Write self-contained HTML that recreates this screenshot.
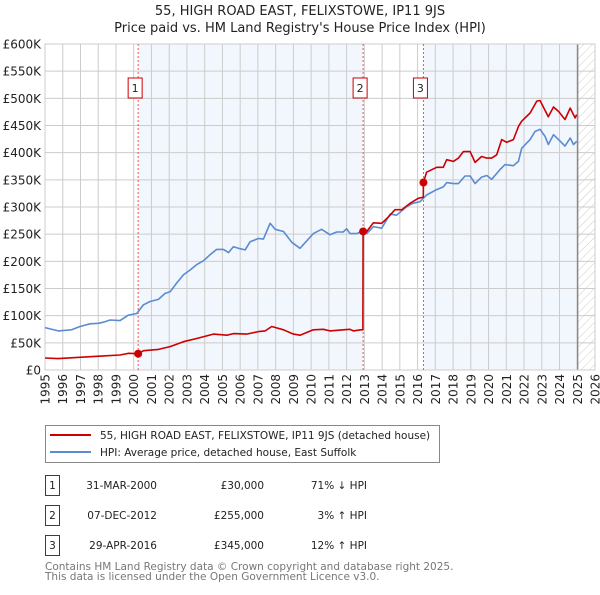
<!DOCTYPE html>
<html><head><meta charset="utf-8"><style>
body{margin:0;background:#fff;font-family:"Liberation Sans","DejaVu Sans",sans-serif;}
svg text{font-family:"DejaVu Sans","Liberation Sans",sans-serif;}
</style></head><body>
<svg id="c" width="600" height="590" viewBox="0 0 600 590" xmlns="http://www.w3.org/2000/svg">
<defs><pattern id="hatch" width="6" height="6" patternUnits="userSpaceOnUse" patternTransform="rotate(45)"><line x1="0" y1="0" x2="0" y2="6" stroke="#ccc" stroke-width="1"/></pattern></defs>
<text x="300" y="15" text-anchor="middle" font-size="13" fill="#222">55, HIGH ROAD EAST, FELIXSTOWE, IP11 9JS</text>
<text x="300" y="32" text-anchor="middle" font-size="13" fill="#222">Price paid vs. HM Land Registry's House Price Index (HPI)</text>
<g id="plot"></g>
<g>
<rect x="45.5" y="425.5" width="394" height="37" fill="#fff" stroke="#888"/>
<line x1="50" y1="435" x2="91" y2="435" stroke="#cc0000" stroke-width="2"/>
<text x="100" y="439" font-size="10.5" fill="#222">55, HIGH ROAD EAST, FELIXSTOWE, IP11 9JS (detached house)</text>
<line x1="50" y1="452" x2="91" y2="452" stroke="#5b8bd0" stroke-width="2"/>
<text x="100" y="456" font-size="10.5" fill="#222">HPI: Average price, detached house, East Suffolk</text>
</g>
<g font-size="10.5" fill="#222">
<rect x="45.5" y="475.5" width="14" height="20" fill="#fff" stroke="#cc0000"/><text x="52.5" y="489" text-anchor="middle">1</text>
<text x="157" y="489" text-anchor="end">31-MAR-2000</text><text x="264" y="489" text-anchor="end">£30,000</text><text x="367" y="489" text-anchor="end">71% ↓ HPI</text>
<rect x="45.5" y="505.5" width="14" height="20" fill="#fff" stroke="#cc0000"/><text x="52.5" y="519" text-anchor="middle">2</text>
<text x="157" y="519" text-anchor="end">07-DEC-2012</text><text x="264" y="519" text-anchor="end">£255,000</text><text x="367" y="519" text-anchor="end">3% ↑ HPI</text>
<rect x="45.5" y="535.5" width="14" height="20" fill="#fff" stroke="#cc0000"/><text x="52.5" y="549" text-anchor="middle">3</text>
<text x="157" y="549" text-anchor="end">29-APR-2016</text><text x="264" y="549" text-anchor="end">£345,000</text><text x="367" y="549" text-anchor="end">12% ↑ HPI</text>
</g>
<text x="45" y="570" font-size="10.5" fill="#777">Contains HM Land Registry data © Crown copyright and database right 2025.</text>
<text x="45" y="580" font-size="10.5" fill="#777">This data is licensed under the Open Government Licence v3.0.</text>
</svg>
<script>
const hpiYears=[1995.00,1995.75,1996.50,1996.97,1997.54,1998.01,1998.29,1998.67,1999.23,1999.70,2000.17,2000.55,2000.92,2001.39,2001.77,2002.05,2002.42,2002.80,2003.18,2003.55,2003.93,2004.30,2004.68,2005.06,2005.34,2005.62,2005.90,2006.28,2006.56,2007.03,2007.31,2007.69,2007.97,2008.44,2008.91,2009.37,2010.12,2010.59,2011.06,2011.44,2011.81,2012.00,2012.19,2012.57,2012.85,2013.13,2013.51,2013.98,2014.45,2014.82,2015.39,2015.76,2016.14,2016.51,2017.08,2017.45,2017.64,2018.02,2018.30,2018.67,2018.96,2019.24,2019.61,2019.90,2020.18,2020.65,2020.93,2021.40,2021.68,2021.87,2022.34,2022.62,2022.90,2023.19,2023.37,2023.66,2023.94,2024.31,2024.60,2024.79,2024.97];
const hpiValues=[78,72,74,80,85,86,88,92,91,101,104,120,126,130,141,144,160,175,184,194,201,212,222,222,216,227,224,221,236,242,241,270,259,255,235,224,251,259,249,254,254,260,251,251,255,251,264,261,287,285,301,307,310,322,332,337,345,343,343,357,357,343,355,358,351,369,378,376,384,408,424,439,443,430,415,433,424,412,427,415,421];
const priceYears=[1995.00,1995.75,1997.54,1998.29,1999.23,1999.70,2000.25,2000.55,2001.39,2002.05,2002.80,2003.55,2004.49,2005.25,2005.62,2006.37,2007.03,2007.41,2007.78,2008.44,2009.00,2009.37,2010.12,2010.69,2011.06,2011.81,2012.19,2012.38,2012.79,2012.92,2012.93,2013.13,2013.51,2013.98,2014.36,2014.73,2015.11,2015.58,2016.04,2016.32,2016.33,2016.51,2017.08,2017.45,2017.64,2018.02,2018.30,2018.58,2018.96,2019.24,2019.61,2019.90,2020.18,2020.46,2020.74,2021.02,2021.40,2021.68,2021.87,2022.34,2022.72,2022.90,2023.37,2023.66,2023.94,2024.31,2024.60,2024.88,2024.97];
const priceValues=[22,21,24.5,26,27.6,30.7,30,35.6,38,43,52,58,66,64,67,66,70.6,72,80,74,66,64,74,75,72,74,75,72,74,74,255,255,271,270,282,295,295,307,316,318,345,364,373,373,387,384,390,402,402,382,393,390,390,396,424,419,424,448,458,473,495,496,466,484,476,461,482,464,470];
const saleYears=[2000.25,2012.93,2016.33];
const saleValues=[30000,255000,345000];
const saleLabels=["1","2","3"];
const yTicks=[0,50,100,150,200,250,300,350,400,450,500,550,600];
const yTickLabels=["£0","£50K","£100K","£150K","£200K","£250K","£300K","£350K","£400K","£450K","£500K","£550K","£600K"];
const xTicks=[1995,1996,1997,1998,1999,2000,2001,2002,2003,2004,2005,2006,2007,2008,2009,2010,2011,2012,2013,2014,2015,2016,2017,2018,2019,2020,2021,2022,2023,2024,2025,2026];
const dataEnd=2025.02;

const L=45,R=595,T=44,B=370,X0=1995,X1=2026,YMAX=600;
const xs=y=>L+(y-X0)/(X1-X0)*(R-L);
const ys=v=>B-v/YMAX*(B-T);
const NS='http://www.w3.org/2000/svg';
const g=document.getElementById('plot');
function mk(tag,attrs,parent){const e=document.createElementNS(NS,tag);for(const k in attrs)e.setAttribute(k,attrs[k]);(parent||g).appendChild(e);return e;}

let e=mk('rect',{x:L,y:T,width:R-L,height:B-T,fill:'#fff'});


e=mk('rect',{x:xs(saleYears[0]),y:T,width:xs(saleYears[1])-xs(saleYears[0]),height:B-T,fill:'#f2f6fd'});


e=mk('rect',{x:xs(saleYears[2]),y:T,width:xs(dataEnd)-xs(saleYears[2]),height:B-T,fill:'#f2f6fd'});


e=mk('rect',{x:xs(dataEnd),y:T,width:R-xs(dataEnd),height:B-T,fill:'url(#hatch)'});



yTicks.forEach((t,i)=>{
  e=mk('line',{x1:L,x2:R,y1:ys(t),y2:ys(t),stroke:'#ccc','stroke-width':1});
  
  
  e=mk('text',{x:L-4,y:ys(t)+4.5,'text-anchor':'end','font-size':12,fill:'#222'});
  e.textContent=yTickLabels[i];
  
  
});
xTicks.forEach(t=>{
  e=mk('line',{x1:xs(t),x2:xs(t),y1:T,y2:B,stroke:'#ccc','stroke-width':1});
  
  
  const x=xs(t)+4.5,y=374;
  e=mk('text',{x:x,y:y,'text-anchor':'end','font-size':12,fill:'#222',transform:`rotate(-90 ${x} ${y})`});
  e.textContent=t;
  
  
});
e=mk('line',{x1:xs(dataEnd),x2:xs(dataEnd),y1:T,y2:B,stroke:'#888','stroke-width':1.5});


e=mk('rect',{x:L,y:T,width:R-L,height:B-T,fill:'none',stroke:'#ccc'});



saleYears.forEach((s,i)=>{
  e=mk('line',{x1:xs(s),x2:xs(s),y1:T,y2:B,stroke:'#ee5555','stroke-width':1,'stroke-dasharray':'2,2'});
  
  
});

function path(xa,va,col,name){
  const d=xa.map((x,i)=>(i?'L':'M')+xs(x).toFixed(1)+','+ys(va[i]).toFixed(1)).join('');
  const p=mk('path',{d:d,fill:'none',stroke:col,'stroke-width':1.6,'stroke-linejoin':'round'});
  
  
}
path(hpiYears,hpiValues,'#5b8bd0','hpi-line');
path(priceYears,priceValues,'#cc0000','price-paid-line');

saleYears.forEach((s,i)=>{
  e=mk('circle',{cx:xs(s),cy:ys(saleValues[i]/1000),r:4,fill:'#cc0000'});
  
  
  const bx=xs(s)-10,by=78;
  e=mk('rect',{x:bx,y:by,width:14,height:20,fill:'#fff',stroke:'#cc0000'});
  
  
  e=mk('text',{x:bx+7,y:by+14,'text-anchor':'middle','font-size':11,fill:'#222'});
  e.textContent=saleLabels[i];
  
  
});
</script>
</body></html>
